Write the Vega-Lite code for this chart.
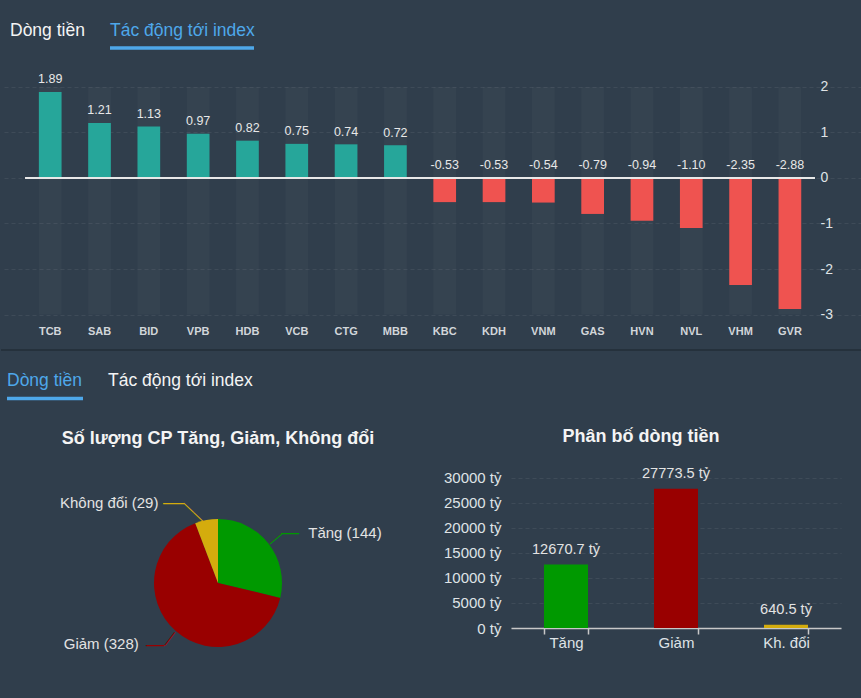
{
  "$schema": "https://vega.github.io/schema/vega-lite/v6.json",
  "background": "#303e4c",
  "padding": 0,
  "config": {
    "font": "Liberation Sans",
    "view": {"stroke": null},
    "axis": {"labelFont": "Liberation Sans"}
  },
  "bounds": "flush",
  "spacing": 0,
  "resolve": {"scale": {"color": "independent", "x": "independent", "y": "independent"}},
  "vconcat": [
    {
      "width": 861,
      "height": 62,
      "data": {"values": [
        {"tab": "Dòng tiền", "active": false},
        {"tab": "Tác động tới index", "active": true}
      ]},
      "encoding": {
        "x": {"field": "tab", "type": "nominal", "scale": {"type": "point", "domain": ["Dòng tiền", "Tác động tới index"], "range": [9, 109], "padding": 0}, "axis": null}
      },
      "layer": [
        {
          "mark": {"type": "text", "align": "left", "baseline": "middle", "fontSize": 17.5},
          "encoding": {
            "text": {"field": "tab"},
            "color": {"condition": {"test": "datum.active", "value": "#4ea8ea"}, "value": "#f4f4f4"}
          }
        },
        {
          "transform": [{"filter": "datum.active"}],
          "mark": {"type": "tick", "orient": "horizontal", "size": 144, "thickness": 3.5, "xOffset": 72, "yOffset": 17, "color": "#4ea8ea", "opacity": 1}
        }
      ]
    },
    {
      "width": 861,
      "height": 288,
      "data": {"values": [
        {"code": "TCB", "value": 1.89, "label": "1.89"},
        {"code": "SAB", "value": 1.21, "label": "1.21"},
        {"code": "BID", "value": 1.13, "label": "1.13"},
        {"code": "VPB", "value": 0.97, "label": "0.97"},
        {"code": "HDB", "value": 0.82, "label": "0.82"},
        {"code": "VCB", "value": 0.75, "label": "0.75"},
        {"code": "CTG", "value": 0.74, "label": "0.74"},
        {"code": "MBB", "value": 0.72, "label": "0.72"},
        {"code": "KBC", "value": -0.53, "label": "-0.53"},
        {"code": "KDH", "value": -0.53, "label": "-0.53"},
        {"code": "VNM", "value": -0.54, "label": "-0.54"},
        {"code": "GAS", "value": -0.79, "label": "-0.79"},
        {"code": "HVN", "value": -0.94, "label": "-0.94"},
        {"code": "NVL", "value": -1.10, "label": "-1.10"},
        {"code": "VHM", "value": -2.35, "label": "-2.35"},
        {"code": "GVR", "value": -2.88, "label": "-2.88"}
      ]},
      "encoding": {
        "x": {
          "field": "code", "type": "nominal", "sort": null,
          "scale": {"paddingInner": 0.54, "paddingOuter": 1.0557, "align": 0.384},
          "axis": {"title": null, "orient": "bottom", "offset": -19, "domain": false, "ticks": false, "tickSize": 0, "labelPadding": 0, "labelBaseline": "middle", "labelAngle": 0, "labelFontWeight": "bold", "labelFontSize": 11, "labelColor": "#d2d6da", "grid": false}
        },
        "y": {
          "field": "value", "type": "quantitative",
          "scale": {"domain": [-3.78, 2.549], "nice": false},
          "axis": {"title": null, "orient": "right", "values": [-3, -2, -1, 0, 1, 2], "labelExpr": "'' + datum.value", "offset": -50, "labelPadding": 8, "domain": false, "ticks": false, "tickSize": 0, "labelFontSize": 14, "labelColor": "#dfe3e6", "labelAlign": "left", "grid": true, "gridColor": "#ffffff", "gridOpacity": 0.07, "gridDash": [4, 3]}
        }
      },
      "layer": [
        {
          "mark": {"type": "bar", "color": "#ffffff", "opacity": 0.028},
          "encoding": {"y": {"datum": 2, "type": "quantitative"}, "y2": {"datum": -3}}
        },
        {
          "mark": {"type": "bar"},
          "encoding": {"color": {"condition": {"test": "datum.value > 0", "value": "#26a69a"}, "value": "#ef5350"}}
        },
        {
          "mark": {"type": "rule", "color": "#e8e8e8", "strokeWidth": 1.5, "xOffset": -24.5, "x2Offset": 24.5},
          "encoding": {"x": {"datum": "TCB"}, "x2": {"datum": "GVR"}, "y": {"datum": 0, "type": "quantitative"}}
        },
        {
          "transform": [{"filter": "datum.value > 0"}],
          "mark": {"type": "text", "baseline": "middle", "dy": -12.5, "fontSize": 12.5, "color": "#e8e8e8"},
          "encoding": {"text": {"field": "label"}}
        },
        {
          "transform": [{"filter": "datum.value < 0"}],
          "mark": {"type": "text", "baseline": "middle", "dy": -13, "fontSize": 12.5, "color": "#e8e8e8"},
          "encoding": {"y": {"datum": 0, "type": "quantitative"}, "text": {"field": "label"}}
        }
      ]
    },
    {
      "bounds": "flush",
      "spacing": 56,
      "resolve": {"scale": {"color": "independent", "x": "independent", "y": "independent"}},
      "vconcat": [
        {
          "width": 861,
          "height": 62,
          "data": {"values": [
            {"tab": "Dòng tiền", "active": true},
            {"tab": "Tác động tới index", "active": false}
          ]},
          "encoding": {
            "x": {"field": "tab", "type": "nominal", "scale": {"type": "point", "domain": ["Dòng tiền", "Tác động tới index"], "range": [6, 107], "padding": 0}, "axis": null}
          },
          "layer": [
            {
              "mark": {"type": "rule", "color": "#25313c", "strokeWidth": 2},
              "encoding": {"x": null, "y": {"datum": 1, "type": "quantitative", "scale": {"domain": [0, 1]}, "axis": null}}
            },
            {
              "mark": {"type": "text", "align": "left", "baseline": "middle", "fontSize": 17.5},
              "encoding": {
                "text": {"field": "tab"},
                "color": {"condition": {"test": "datum.active", "value": "#4ea8ea"}, "value": "#f4f4f4"}
              }
            },
            {
              "transform": [{"filter": "datum.active"}],
              "mark": {"type": "tick", "orient": "horizontal", "size": 76, "thickness": 3.5, "xOffset": 38, "yOffset": 17.5, "color": "#4ea8ea", "opacity": 1}
            }
          ]
        },
        {
          "hconcat": [
            {
              "width": 434,
              "height": 230,
              "title": {"text": "Số lượng CP Tăng, Giảm, Không đổi", "fontSize": 18, "fontWeight": "bold", "color": "#f4f4f4", "anchor": "middle", "frame": "group", "baseline": "middle", "offset": 11.5},
              "data": {"values": [
                {"cat": "Tăng", "count": 144, "label": "Tăng (144)"},
                {"cat": "Giảm", "count": 328, "label": "Giảm (328)"},
                {"cat": "Không đổi", "count": 29, "label": "Không đổi (29)"}
              ]},
              "encoding": {
                "theta": {"field": "count", "type": "quantitative", "stack": true, "scale": {"range": [-0.3637, 5.9195]}},
                "order": {"field": "count", "sort": "ascending"}
              },
              "layer": [
                {
                  "mark": {"type": "arc", "outerRadius": 64},
                  "encoding": {"color": {"field": "cat", "type": "nominal", "scale": {"domain": ["Tăng", "Giảm", "Không đổi"], "range": ["#009900", "#990000", "#d4ac0d"]}, "legend": null}}
                },
                {
                  "mark": {"type": "text", "radius": 64, "align": "left", "baseline": "middle", "dx": 40, "dy": -10, "fontSize": 15, "color": "#e3e3e3"},
                  "encoding": {"text": {"condition": {"test": "datum.cat === 'Tăng'", "field": "label"}, "value": ""}}
                },
                {
                  "mark": {"type": "text", "radius": 64, "align": "right", "baseline": "middle", "dx": -48, "dy": -17, "fontSize": 15, "color": "#e3e3e3"},
                  "encoding": {"text": {"condition": {"test": "datum.cat === 'Không đổi'", "field": "label"}, "value": ""}}
                },
                {
                  "mark": {"type": "text", "radius": 64, "align": "right", "baseline": "middle", "dx": -37, "dy": 13, "fontSize": 15, "color": "#e3e3e3"},
                  "encoding": {"text": {"condition": {"test": "datum.cat === 'Giảm'", "field": "label"}, "value": ""}}
                },
                {
                  "mark": {"type": "text", "radius": 64, "align": "center", "baseline": "middle", "dx": 22, "dy": -10, "fontSize": 18},
                  "encoding": {
                    "text": {"condition": {"test": "datum.cat === 'Tăng'", "value": "—"}, "value": ""},
                    "color": {"field": "cat", "type": "nominal", "legend": null}
                  }
                },
                {
                  "mark": {"type": "text", "radius": 64, "align": "center", "baseline": "middle", "dx": 8.6, "dy": 0.7, "angle": -40, "fontSize": 15.6},
                  "encoding": {
                    "text": {"condition": {"test": "datum.cat === 'Tăng'", "value": "—"}, "value": ""},
                    "color": {"field": "cat", "type": "nominal", "legend": null}
                  }
                },
                {
                  "mark": {"type": "text", "radius": 64, "align": "center", "baseline": "middle", "dx": -33, "dy": -17, "fontSize": 21},
                  "encoding": {
                    "text": {"condition": {"test": "datum.cat === 'Không đổi'", "value": "—"}, "value": ""},
                    "color": {"field": "cat", "type": "nominal", "legend": null}
                  }
                },
                {
                  "mark": {"type": "text", "radius": 64, "align": "center", "baseline": "middle", "dx": -14.2, "dy": 3.0, "angle": 43.5, "fontSize": 13.8},
                  "encoding": {
                    "text": {"condition": {"test": "datum.cat === 'Không đổi'", "value": "——"}, "value": ""},
                    "color": {"field": "cat", "type": "nominal", "legend": null}
                  }
                },
                {
                  "mark": {"type": "text", "radius": 64, "align": "center", "baseline": "middle", "dx": -20.6, "dy": 14, "fontSize": 18.3},
                  "encoding": {
                    "text": {"condition": {"test": "datum.cat === 'Giảm'", "value": "—"}, "value": ""},
                    "color": {"field": "cat", "type": "nominal", "legend": null}
                  }
                },
                {
                  "mark": {"type": "text", "radius": 64, "align": "center", "baseline": "middle", "dx": -9.7, "dy": -0.9, "angle": -53, "fontSize": 16.6},
                  "encoding": {
                    "text": {"condition": {"test": "datum.cat === 'Giảm'", "value": "—"}, "value": ""},
                    "color": {"field": "cat", "type": "nominal", "legend": null}
                  }
                }
              ]
            },
            {
              "width": 330,
              "height": 160,
              "title": {"text": "Phân bố dòng tiền", "fontSize": 18, "fontWeight": "bold", "color": "#f4f4f4", "anchor": "middle", "frame": "group", "baseline": "middle", "offset": 11.5, "dx": -35},
              "data": {"values": [
                {"nhom": "Tăng", "value": 12670.7, "label": "12670.7 tỷ"},
                {"nhom": "Giảm", "value": 27773.5, "label": "27773.5 tỷ"},
                {"nhom": "Kh. đổi", "value": 640.5, "label": "640.5 tỷ"}
              ]},
              "encoding": {
                "x": {
                  "field": "nhom", "type": "nominal", "sort": null,
                  "scale": {"paddingInner": 0.6, "paddingOuter": 0.3},
                  "axis": {"title": null, "labelAngle": 0, "domainColor": "#c8c8c8", "domainWidth": 1.5, "ticks": true, "tickBand": "extent", "tickColor": "#c8c8c8", "tickSize": 6, "tickWidth": 1.5, "labelPadding": 1, "labelFontSize": 15, "labelColor": "#dfe3e6"}
                },
                "y": {
                  "field": "value", "type": "quantitative",
                  "scale": {"domain": [0, 31900], "nice": false},
                  "axis": {"title": null, "values": [0, 5000, 10000, 15000, 20000, 25000, 30000], "labelExpr": "datum.value + ' tỷ'", "domain": false, "ticks": false, "tickSize": 0, "labelPadding": 10, "labelFontSize": 15, "labelColor": "#dfe3e6", "grid": true, "gridColor": "#ffffff", "gridOpacity": 0.07, "gridDash": [4, 3]}
                }
              },
              "layer": [
                {
                  "mark": {"type": "bar"},
                  "encoding": {"color": {"field": "nhom", "type": "nominal", "scale": {"domain": ["Tăng", "Giảm", "Kh. đổi"], "range": ["#009900", "#990000", "#d4ac0d"]}, "legend": null}}
                },
                {
                  "mark": {"type": "text", "baseline": "middle", "dy": -14.5, "fontSize": 14.6, "color": "#e3e3e3"},
                  "encoding": {"text": {"field": "label"}}
                }
              ]
            }
          ],
          "spacing": 76,
          "bounds": "flush",
          "resolve": {"scale": {"color": "independent", "x": "independent", "y": "independent"}}
        }
      ]
    }
  ]
}
